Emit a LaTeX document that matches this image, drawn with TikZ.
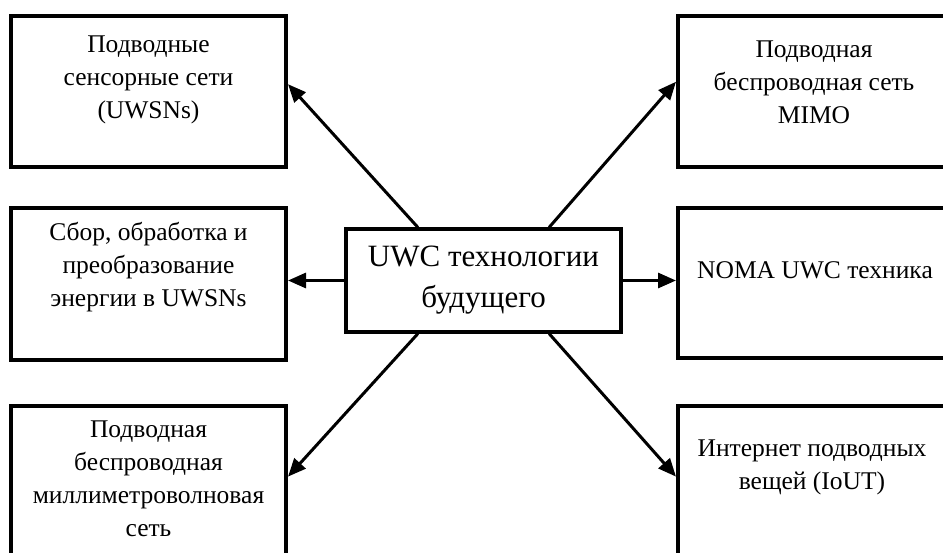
\documentclass[tikz,border=0pt]{standalone}
\usepackage{fontspec}
\setmainfont{Liberation Serif}
\usetikzlibrary{arrows.meta,calc}
\begin{document}
\begin{tikzpicture}[x=1pt,y=-1pt,
  outerbox/.style={draw,line width=4pt,minimum width=275pt,minimum height=151pt,inner sep=0pt},
  centerbox/.style={draw,line width=3.3pt,minimum width=275pt,minimum height=103pt,inner sep=0pt,align=center,font=\fontsize{31}{41}\selectfont},
  lbl/.style={align=center,font=\fontsize{25.5}{33}\selectfont,inner sep=0pt},
  conn/.style={line width=3pt,-{Triangle[length=18pt,width=15pt]}}]
\useasboundingbox (0,0) rectangle (943,552);
\clip (0,0) rectangle (943,552);
\fill[white] (0,0) rectangle (943,552);
% boxes
\node[outerbox] (tl) at (148.5,91.5) {};
\node[outerbox,minimum height=152pt] (ml) at (148.5,283.5) {};
\node[outerbox] (bl) at (148.5,481.5) {};
\node[outerbox] (tr) at (815.5,91.5) {};
\node[outerbox,minimum height=150pt] (mr) at (815.5,283) {};
\node[outerbox] (br) at (815.5,481.5) {};
\node[centerbox] (c) at (483.5,280.5) {UWC технологии\\будущего};
% labels
\node[lbl] (ttl) at (148.5,80) {Подводные\\сенсорные сети\\(UWSNs)};
\node[lbl] (tml) at (148.5,267) {Сбор, обработка и\\преобразование\\энергии в UWSNs};
\node[lbl] (tbl) at (148.5,479) {Подводная\\беспроводная\\миллиметроволновая\\сеть};
\node[lbl] (ttr) at (814,82) {Подводная\\беспроводная сеть\\MIMO};
\node[lbl] (tmr) at (815,270) {NOMA UWC техника};
\node[lbl] (tbr) at (812,467) {Интернет подводных\\вещей (IoUT)};
% connectors
\draw[conn] (c.141) -- (tl.3.5);
\draw[conn] (c.39) -- (tr.176.5);
\draw[conn] (c.219) -- (bl.2.7);
\draw[conn] (c.321) -- (br.178);
\draw[conn] (c.west) -- (c.west -| ml.east);
\draw[conn] (c.east) -- (c.east -| mr.west);
\end{tikzpicture}
\end{document}
